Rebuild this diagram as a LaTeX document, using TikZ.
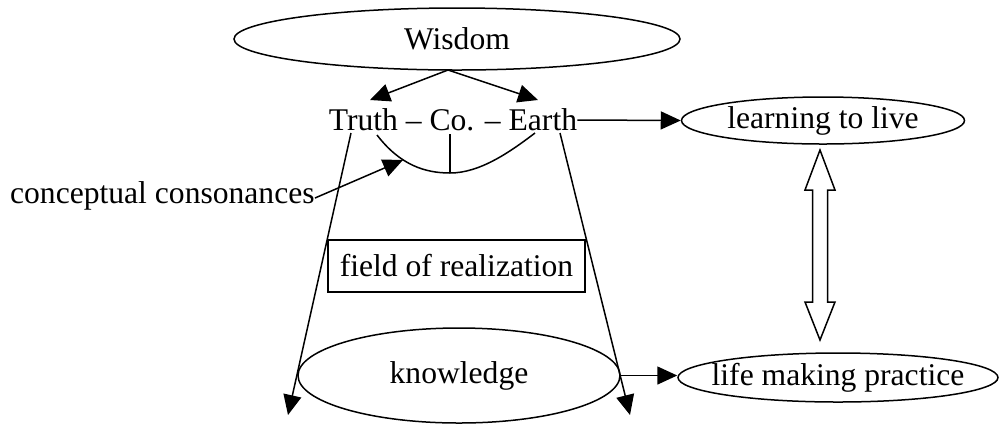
\documentclass[tikz,border=0pt]{standalone}
\usepackage{fontspec}
\setmainfont{Liberation Serif}
\usetikzlibrary{shapes.geometric,arrows.meta}
\begin{document}
\begin{tikzpicture}[x=0.5pt,y=-0.5pt,
  every node/.style={font=\fontsize{15.8}{19}\selectfont},
  ell/.style={draw,ellipse,inner xsep=-15pt,inner ysep=-3pt,line width=0.75pt},
  conn/.style={line width=0.75pt,-{Triangle[length=10pt,width=9pt]}},
  plain/.style={line width=0.75pt}]
\useasboundingbox (0,0) rectangle (1002,425);
% nodes
\node[ell,minimum width=223pt,minimum height=31pt] (wis) at (457,39) {\raisebox{-1.5pt}{Wisdom}};
\node[inner sep=0pt] (tce) at (453,120) {Truth – Co. – Earth};
\node[ell,minimum width=141.5pt,minimum height=23.5pt] (learn) at (823,120.5) {learning to live};
\node[draw,plain,inner sep=0pt,minimum width=128.5pt,minimum height=26pt] (field) at (456.5,266) {field of realization};
\node[ell,minimum width=161pt,minimum height=47.5pt] (know) at (459,375.5) {knowledge};
\node[ell,minimum width=160pt,minimum height=24.5pt] (life) at (838,377.5) {life making practice};
\node[inner sep=0pt,anchor=base east] (cc) at (315,203) {conceptual consonances};
% coordinates
\coordinate (wb) at (448,70);
\coordinate (tl) at (370,100);
\coordinate (tr) at (538,100);
\coordinate (c1) at (377,135);
\coordinate (cm) at (450,173);
\coordinate (ctop) at (450,134);
\coordinate (c2) at (535,133);
\coordinate (ccs) at (315,198);
\coordinate (cct) at (403,160);
\coordinate (ls) at (351,133);
\coordinate (le) at (288,415);
\coordinate (rs) at (560,133);
\coordinate (re) at (630,415);
% connectors
\draw[conn] (wb) -- (tl);
\draw[conn] (wb) -- (tr);
\draw[conn] (tce.east) -- (learn.west);
\draw[plain] (c1) .. controls (400,165) and (425,173) .. (cm) .. controls (480,173) and (510,152) .. (c2);
\draw[plain] (ctop) -- (cm);
\draw[conn] (ccs) -- (cct);
\draw[conn] (ls) -- (le);
\draw[conn] (rs) -- (re);
\draw[conn] (know.east) -- (know.east -| life.west);
% hollow double arrow
\draw[plain,line join=miter] (820,150) -- (835,190) -- (827.5,190) -- (827.5,302) -- (835,302) -- (820,340) -- (805,302) -- (812.5,302) -- (812.5,190) -- (805,190) -- cycle;
\end{tikzpicture}
\end{document}
